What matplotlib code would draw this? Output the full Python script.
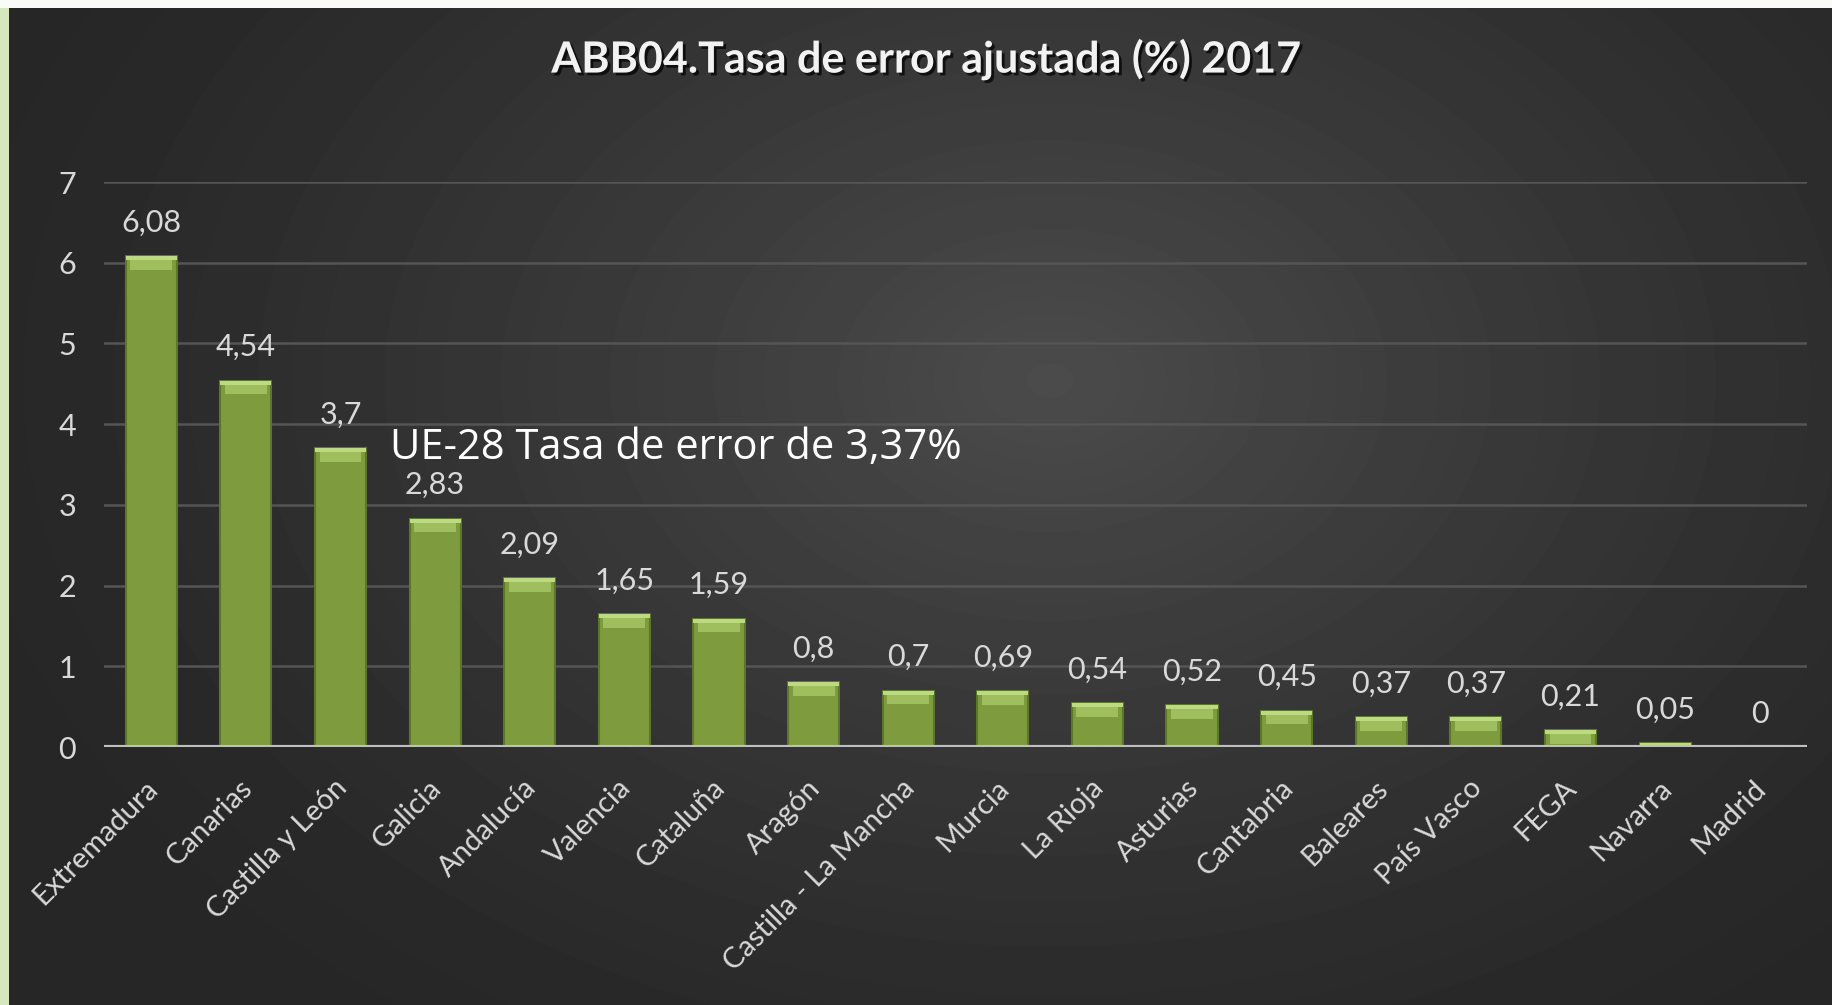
import numpy as np
import matplotlib.pyplot as plt
import matplotlib.patheffects as pe
import matplotlib.transforms as mtrans
from matplotlib.patches import Rectangle

# datos
regiones = ["Extremadura", "Canarias", "Castilla y León", "Galicia", "Andalucía",
            "Valencia", "Cataluña", "Aragón", "Castilla - La Mancha", "Murcia",
            "La Rioja", "Asturias", "Cantabria", "Baleares", "País Vasco",
            "FEGA", "Navarra", "Madrid"]
tasas = [6.08, 4.54, 3.7, 2.83, 2.09, 1.65, 1.59, 0.8, 0.7, 0.69,
         0.54, 0.52, 0.45, 0.37, 0.37, 0.21, 0.05, 0]
etiquetas = [f"{v:g}".replace(".", ",") for v in tasas]
titulo = "ABB04.Tasa de error ajustada (%) 2017"
nota_ue = "UE-28 Tasa de error de 3,37%"

plt.rcParams['font.family'] = ['Lato', 'DejaVu Sans']

W, H = 1832, 1005
fig = plt.figure(figsize=(W / 100, H / 100), dpi=100)

# fondo degradado
bg = fig.add_axes([0, 0, 1, 1], zorder=-10)
yy, xx = np.mgrid[0:H, 0:W]
d = np.sqrt((xx - 1050) ** 2 + ((yy - 380) * 1.4) ** 2) / 1100
d = np.clip(d, 0, 1)
gris = 0.152 + 0.145 * (1 - d) ** 1.3
bg.imshow(gris, cmap='gray', vmin=0, vmax=1, aspect='auto', extent=[0, W, H, 0])
bg.add_patch(Rectangle((0, 0), 9, H, color='#d5e8bd', lw=0))
bg.add_patch(Rectangle((0, 0), W, 8, color='#fafbf7', lw=0))
bg.set_xlim(0, W)
bg.set_ylim(H, 0)
bg.axis('off')

# grafico
ax = fig.add_axes([104 / W, 1 - 747 / H, (1807 - 104) / W, (747 - 182) / H])
ax.set_facecolor('none')
x = np.arange(len(regiones))
v = np.array(tasas)
ancho = 0.54

ax.bar(x, v, width=ancho, color='#7e9c3e', edgecolor='#5b782a', linewidth=1.5, zorder=3)
banda = np.minimum(v, 0.17)
ax.bar(x, banda, bottom=v - banda, width=ancho * 0.82, color='#9fbf5e', linewidth=0, zorder=4)
borde = np.minimum(v, 0.05)
ax.bar(x, borde, bottom=v - borde, width=ancho, color='#bcdb80', linewidth=0, zorder=5)

ax.axhline(0, color='#bfbfbf', lw=3, zorder=6)

for xi, vi, lab in zip(x, v, etiquetas):
    ax.annotate(lab, (xi, vi), xytext=(0, 14), textcoords='offset points',
                ha='center', va='bottom', color='#d9d9d9', fontsize=22)

ax.text(2.52, 3.70, nota_ue, fontsize=30, color='white', va='center', ha='left',
        family=['Open Sans', 'DejaVu Sans'])

ax.set_xlim(-0.5, len(regiones) - 0.5)
ax.set_ylim(0, 7)
ax.set_yticks(range(8))
ax.yaxis.grid(True, color='#555555', linewidth=1.8)
ax.set_axisbelow(True)
for s in ax.spines.values():
    s.set_visible(False)
ax.tick_params(axis='both', length=0, colors='#d9d9d9', labelsize=22)
ax.tick_params(axis='y', pad=20)
ax.tick_params(axis='x', pad=20, labelsize=21)
ax.set_xticks(x)
ax.set_xticklabels(regiones, rotation=45, ha='right', rotation_mode='anchor')
desplaza = mtrans.ScaledTranslation(-5 / 72, 0, fig.dpi_scale_trans)
for t in ax.get_xticklabels():
    t.set_transform(t.get_transform() + desplaza)

fig.text(926 / W, 1 - 59 / H, titulo, ha='center', va='center', fontsize=31,
         weight='bold', color='#f2f2f2',
         path_effects=[pe.withSimplePatchShadow(offset=(2, -2), shadow_rgbFace='black', alpha=0.7)])

fig.savefig('out.png', dpi=100)
